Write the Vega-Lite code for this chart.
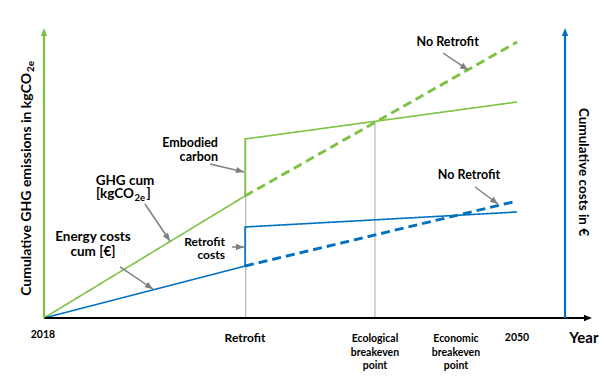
{
  "$schema": "https://vega.github.io/schema/vega-lite/v6.json",
  "width": 605,
  "height": 377,
  "padding": 0,
  "autosize": {"type": "none"},
  "background": "white",
  "config": {"view": {"stroke": null}, "font": "Lato"},
  "datasets": {
    "curves": [
      {"metric": "GHG", "scenario": "Retrofit", "i": 0, "year": 2018, "value": 0},
      {"metric": "GHG", "scenario": "Retrofit", "i": 1, "year": 2031.6, "value": 42.07},
      {"metric": "GHG", "scenario": "Retrofit", "i": 2, "year": 2031.6, "value": 61.72},
      {"metric": "GHG", "scenario": "Retrofit", "i": 3, "year": 2050, "value": 74.48},
      {"metric": "GHG", "scenario": "No Retrofit", "i": 0, "year": 2031.6, "value": 42.07},
      {"metric": "GHG", "scenario": "No Retrofit", "i": 1, "year": 2050, "value": 95.17},
      {"metric": "Cost", "scenario": "Retrofit", "i": 0, "year": 2018, "value": 0},
      {"metric": "Cost", "scenario": "Retrofit", "i": 1, "year": 2031.6, "value": 17.93},
      {"metric": "Cost", "scenario": "Retrofit", "i": 2, "year": 2031.6, "value": 31.38},
      {"metric": "Cost", "scenario": "Retrofit", "i": 3, "year": 2050, "value": 36.55},
      {"metric": "Cost", "scenario": "No Retrofit", "i": 0, "year": 2031.6, "value": 17.93},
      {"metric": "Cost", "scenario": "No Retrofit", "i": 1, "year": 2050, "value": 40.34}
    ],
    "guides": [
      {"year": 2031.65, "value": 61.72},
      {"year": 2040.39, "value": 67.9}
    ],
    "axes": [
      {"axis": "time", "year": 2018, "value": 0, "year2": 2054.6, "value2": 0},
      {"axis": "ghg", "year": 2018, "value": 0, "year2": 2018, "value2": 98},
      {"axis": "cost", "year": 2053.25, "value": 0, "year2": 2053.25, "value2": 98}
    ],
    "axisTips": [
      {"axis": "ghg", "year": 2018, "value": 100},
      {"axis": "cost", "year": 2053.25, "value": 100},
      {"axis": "time", "year": 2055.07, "value": 0}
    ],
    "ticks": [
      {"year": 2031.6},
      {"year": 2040.39},
      {"year": 2045.87},
      {"year": 2050}
    ],
    "arrows": [
      {"id": "a1", "year": 2045.0, "value": 91.38, "year2": 2046.69, "value2": 85.52},
      {"id": "a2", "year": 2029.23, "value": 53.1, "year2": 2031.53, "value2": 50.34},
      {"id": "a3", "year": 2024.83, "value": 39.31, "year2": 2026.52, "value2": 26.55},
      {"id": "a4", "year": 2023.14, "value": 17.59, "year2": 2025.37, "value2": 10.0},
      {"id": "a5", "year": 2030.72, "value": 24.48, "year2": 2031.53, "value2": 24.48},
      {"id": "a6", "year": 2047.16, "value": 45.17, "year2": 2048.72, "value2": 39.31}
    ],
    "notes": [
      {"label": "No Retrofit", "year": 2045.31, "value": 95.0},
      {"label": "No Retrofit", "year": 2046.75, "value": 49.48}
    ],
    "embodied": [
      {"label": "Embodied\ncarbon", "year": 2029.77, "value": 60.34}
    ],
    "retrofitCosts": [
      {"label": "Retrofit\ncosts", "year": 2030.245, "value": 26.2}
    ],
    "bigLabels": [
      {"label": "GHG cum", "year": 2023.48, "value": 47.07},
      {"label": "Energy costs\ncum [\u20ac]", "year": 2021.315, "value": 27.76}
    ],
    "unitMain": [
      {"label": "[kgCO", "year": 2024.089, "value": 42.93}
    ],
    "unitClose": [
      {"label": "]", "year": 2024.935, "value": 42.93}
    ],
    "unitSub": [
      {"label": "2e", "year": 2024.123, "value": 41.21}
    ],
    "timeLabels": [
      {"label": "2018", "year": 2017.93, "value": -5.9},
      {"label": "Ecological\nbreakeven\npoint", "year": 2040.39, "value": -7.3},
      {"label": "Economic\nbreakeven\npoint", "year": 2045.87, "value": -7.3},
      {"label": "2050", "year": 2050, "value": -7.0}
    ],
    "retrofitLabel": [
      {"label": "Retrofit", "year": 2031.6, "value": -6.9}
    ],
    "yearLabel": [
      {"label": "Year", "year": 2054.53, "value": -6.9}
    ],
    "leftTitle": [
      {"label": "Cumulative GHG emissions in kgCO", "year": 2016.85, "value": 84.48}
    ],
    "leftTitleSub": [
      {"label": "2e", "year": 2017.154, "value": 84.83}
    ],
    "rightTitle": [
      {"label": "Cumulative costs in \u20ac", "year": 2054.47, "value": 50.34}
    ]
  },
  "encoding": {
    "x": {"field": "year", "type": "quantitative", "scale": {"domain": [2015.0233, 2055.9535], "nice": false, "zero": false}, "axis": null},
    "y": {"field": "value", "type": "quantitative", "scale": {"domain": [-20.345, 109.655], "nice": false, "zero": false}, "axis": null}
  },
  "layer": [
    {
      "data": {"name": "guides"},
      "mark": {"type": "rule", "color": "#a6a6a6", "strokeWidth": 1},
      "encoding": {"y": {"datum": 0}, "y2": {"field": "value"}}
    },
    {
      "data": {"name": "curves"},
      "transform": [{"filter": "datum.metric === 'GHG'"}],
      "mark": {"type": "line", "color": "#7dc242", "strokeCap": "butt"},
      "encoding": {
        "strokeDash": {"field": "scenario", "type": "nominal", "scale": {"domain": ["Retrofit", "No Retrofit"], "range": [[1, 0], [9, 5]]}, "legend": null},
        "strokeWidth": {"field": "scenario", "type": "nominal", "scale": {"type": "ordinal", "domain": ["Retrofit", "No Retrofit"], "range": [1.6, 2.9]}, "legend": null},
        "order": {"field": "i", "type": "quantitative"}
      }
    },
    {
      "data": {"name": "curves"},
      "transform": [{"filter": "datum.metric === 'Cost'"}],
      "mark": {"type": "line", "color": "#0070c0", "strokeCap": "butt"},
      "encoding": {
        "strokeDash": {"field": "scenario", "type": "nominal", "scale": {"domain": ["Retrofit", "No Retrofit"], "range": [[1, 0], [9, 5]]}, "legend": null},
        "strokeWidth": {"field": "scenario", "type": "nominal", "scale": {"type": "ordinal", "domain": ["Retrofit", "No Retrofit"], "range": [1.6, 2.9]}, "legend": null},
        "order": {"field": "i", "type": "quantitative"}
      }
    },
    {
      "data": {"name": "axes"},
      "mark": {"type": "rule", "strokeWidth": 2.2},
      "encoding": {
        "x2": {"field": "year2"},
        "y2": {"field": "value2"},
        "color": {"field": "axis", "type": "nominal", "scale": {"domain": ["time", "ghg", "cost"], "range": ["#000000", "#7dc242", "#0070c0"]}, "legend": null}
      }
    },
    {
      "data": {"name": "axisTips"},
      "transform": [{"filter": "datum.axis !== 'time'"}],
      "mark": {"type": "point", "shape": "M0,0L-0.8,2L0.8,2Z", "filled": true, "size": 64, "angle": 0, "opacity": 1},
      "encoding": {
        "color": {"field": "axis", "type": "nominal", "scale": {"domain": ["time", "ghg", "cost"], "range": ["#000000", "#7dc242", "#0070c0"]}, "legend": null}
      }
    },
    {
      "data": {"name": "axisTips"},
      "transform": [{"filter": "datum.axis === 'time'"}],
      "mark": {"type": "point", "shape": "M0,0L-0.8,2L0.8,2Z", "filled": true, "size": 64, "angle": 90, "opacity": 1},
      "encoding": {
        "color": {"field": "axis", "type": "nominal", "scale": {"domain": ["time", "ghg", "cost"], "range": ["#000000", "#7dc242", "#0070c0"]}, "legend": null}
      }
    },
    {
      "data": {"name": "ticks"},
      "mark": {"type": "rule", "color": "#000000", "strokeWidth": 2},
      "encoding": {"y": {"datum": 1.5}, "y2": {"datum": -2.4}}
    },
    {
      "data": {"name": "arrows"},
      "mark": {"type": "rule", "color": "#7f7f7f", "strokeWidth": 1.5},
      "encoding": {"x2": {"field": "year2"}, "y2": {"field": "value2"}}
    },
    {
      "data": {"name": "arrows"},
      "mark": {"type": "point", "shape": "M0,0L-0.8,2L0.8,2Z", "filled": true, "size": 64, "color": "#7f7f7f", "opacity": 1},
      "encoding": {
        "x": {"field": "year2", "type": "quantitative", "scale": {"domain": [2015.0233, 2055.9535], "nice": false, "zero": false}, "axis": null},
        "y": {"field": "value2", "type": "quantitative", "scale": {"domain": [-20.345, 109.655], "nice": false, "zero": false}, "axis": null},
        "angle": {"field": "id", "type": "nominal", "scale": {"type": "ordinal", "domain": ["a1", "a2", "a3", "a4", "a5", "a6"], "range": [124.2, 104.8, 145.9, 123.7, 90, 126.5]}, "legend": null}
      }
    },
    {
      "data": {"name": "notes"},
      "mark": {"type": "text", "font": "Lato", "fontWeight": "bold", "fontSize": 12.5, "align": "center", "baseline": "middle", "color": "#000000"},
      "encoding": {"text": {"field": "label"}}
    },
    {
      "data": {"name": "embodied"},
      "mark": {"type": "text", "font": "Lato", "fontWeight": "bold", "fontSize": 12.5, "align": "right", "baseline": "middle", "lineBreak": "\n", "lineHeight": 14, "color": "#000000"},
      "encoding": {"text": {"field": "label"}}
    },
    {
      "data": {"name": "retrofitCosts"},
      "mark": {"type": "text", "font": "Lato", "fontWeight": "bold", "fontSize": 12, "align": "right", "baseline": "middle", "lineBreak": "\n", "lineHeight": 12.5, "color": "#000000"},
      "encoding": {"text": {"field": "label"}}
    },
    {
      "data": {"name": "bigLabels"},
      "mark": {"type": "text", "font": "Lato", "fontWeight": "bold", "fontSize": 13.5, "align": "center", "baseline": "middle", "lineBreak": "\n", "lineHeight": 15, "color": "#000000"},
      "encoding": {"text": {"field": "label"}}
    },
    {
      "data": {"name": "unitMain"},
      "mark": {"type": "text", "font": "Lato", "fontWeight": "bold", "fontSize": 13.5, "align": "right", "baseline": "middle", "color": "#000000"},
      "encoding": {"text": {"field": "label"}}
    },
    {
      "data": {"name": "unitClose"},
      "mark": {"type": "text", "font": "Lato", "fontWeight": "bold", "fontSize": 13.5, "align": "left", "baseline": "middle", "color": "#000000"},
      "encoding": {"text": {"field": "label"}}
    },
    {
      "data": {"name": "unitSub"},
      "mark": {"type": "text", "font": "Lato", "fontWeight": "bold", "fontSize": 9.5, "align": "left", "baseline": "middle", "color": "#000000"},
      "encoding": {"text": {"field": "label"}}
    },
    {
      "data": {"name": "timeLabels"},
      "mark": {"type": "text", "font": "Lato", "fontWeight": "bold", "fontSize": 10.5, "align": "center", "baseline": "middle", "lineBreak": "\n", "lineHeight": 13.5, "color": "#000000"},
      "encoding": {"text": {"field": "label"}}
    },
    {
      "data": {"name": "retrofitLabel"},
      "mark": {"type": "text", "font": "Lato", "fontWeight": "bold", "fontSize": 12, "align": "center", "baseline": "middle", "color": "#000000"},
      "encoding": {"text": {"field": "label"}}
    },
    {
      "data": {"name": "yearLabel"},
      "mark": {"type": "text", "font": "Lato", "fontWeight": "bold", "fontSize": 15, "align": "center", "baseline": "middle", "color": "#000000"},
      "encoding": {"text": {"field": "label"}}
    },
    {
      "data": {"name": "leftTitle"},
      "mark": {"type": "text", "font": "Lato", "fontWeight": "bold", "fontSize": 14, "align": "right", "baseline": "middle", "angle": 270, "color": "#000000"},
      "encoding": {"text": {"field": "label"}}
    },
    {
      "data": {"name": "leftTitleSub"},
      "mark": {"type": "text", "font": "Lato", "fontWeight": "bold", "fontSize": 10, "align": "left", "baseline": "middle", "angle": 270, "color": "#000000"},
      "encoding": {"text": {"field": "label"}}
    },
    {
      "data": {"name": "rightTitle"},
      "mark": {"type": "text", "font": "Lato", "fontWeight": "bold", "fontSize": 13.5, "align": "center", "baseline": "middle", "angle": 90, "color": "#000000"},
      "encoding": {"text": {"field": "label"}}
    }
  ]
}
